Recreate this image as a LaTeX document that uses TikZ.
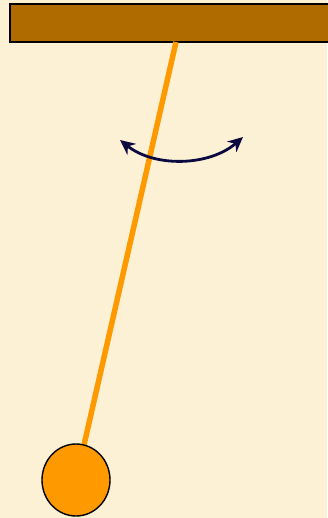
\documentclass[tikz,border=0pt]{standalone}
\usetikzlibrary{arrows.meta,shapes.geometric}
\definecolor{wallbg}{HTML}{FCF1D4}
\definecolor{beam}{HTML}{AF6A00}
\definecolor{rodorange}{HTML}{FF9900}
\definecolor{swingnavy}{HTML}{0A0A40}
\begin{document}
\begin{tikzpicture}[
    x=1pt, y=-1pt,
    ceiling/.style = {draw=black, line width=1.3pt, fill=beam},
    rod/.style     = {draw=rodorange, line width=5.5pt},
    bob/.style     = {ellipse, draw=black, line width=1.4pt, fill=rodorange,
                      minimum width=68pt, minimum height=72pt, inner sep=0pt},
    swing/.style   = {<->, >={Stealth[length=15pt,width=14pt]}, draw=swingnavy,
                      line width=2.8pt}
]
% background
\fill[wallbg] (0,0) rectangle (327,518);
\useasboundingbox (0,0) rectangle (327,518);

% ceiling beam
\draw[ceiling] (333,4) -- (10,4) -- (10,42) -- (333,42);

% pendulum
\coordinate (pivot) at (176,42);
\coordinate (bobcentre) at (76,480);
\draw[rod] (pivot) -- (bobcentre);
\node[bob] (mass) at (bobcentre) {};

% swing arrow
\coordinate (swingL) at (120,140);
\coordinate (swingR) at (243,137);
\draw[swing] (swingL) .. controls (155,168) and (210,166) .. (swingR);
\end{tikzpicture}
\end{document}
